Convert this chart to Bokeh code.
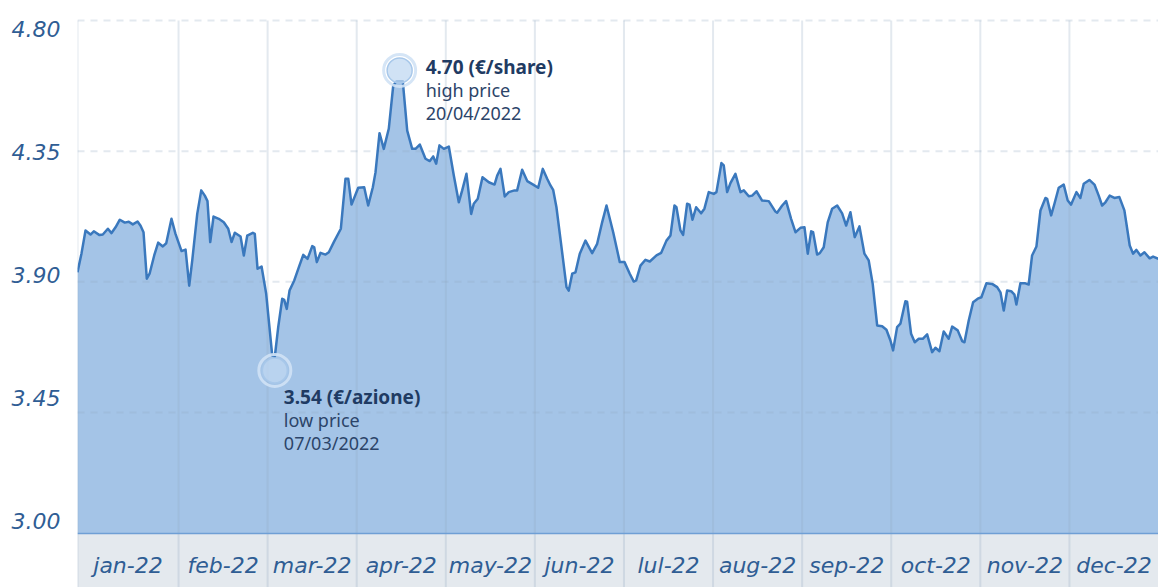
import numpy as np
from bokeh.plotting import figure
from bokeh.models import Range1d, LinearAxis, FixedTicker, NumeralTickFormatter, BoxAnnotation, Span
from bokeh.core.properties import value
from bokeh.embed import file_html
from bokeh.resources import INLINE

# ---------------- data ----------------
months = ["jan-22", "feb-22", "mar-22", "apr-22", "may-22", "jun-22",
          "lul-22", "aug-22", "sep-22", "oct-22", "nov-22", "dec-22"]
y_ticks = [3.00, 3.45, 3.90, 4.35, 4.80]

# position in months (0 = start of jan, 12 = end of dec)
month_pos = [-0.134, -0.089, -0.044, 0.012, 0.049, 0.113, 0.150, 0.207, 0.248, 0.293, 0.341, 0.397, 0.442, 0.487,
             0.540, 0.574, 0.607, 0.644, 0.675, 0.727, 0.772, 0.824, 0.862, 0.921, 0.966, 1.034, 1.079, 1.120,
             1.154, 1.210, 1.255, 1.295, 1.325, 1.356, 1.393, 1.452, 1.508, 1.558, 1.595, 1.632, 1.696, 1.733,
             1.771, 1.834, 1.856, 1.887, 1.932, 1.984, 2.052, 2.081, 2.119, 2.164, 2.186, 2.215, 2.246, 2.299,
             2.350, 2.400, 2.448, 2.501, 2.523, 2.552, 2.594, 2.650, 2.687, 2.743, 2.822, 2.874, 2.905, 2.942,
             3.017, 3.084, 3.129, 3.181, 3.211, 3.256, 3.304, 3.360, 3.410, 3.447, 3.517, 3.567, 3.623, 3.660,
             3.708, 3.772, 3.820, 3.859, 3.892, 3.929, 3.978, 4.034, 4.090, 4.146, 4.184, 4.232, 4.285, 4.314,
             4.359, 4.412, 4.483, 4.547, 4.577, 4.614, 4.662, 4.707, 4.771, 4.801, 4.857, 4.914, 4.981, 5.037,
             5.089, 5.138, 5.175, 5.205, 5.242, 5.299, 5.355, 5.380, 5.419, 5.456, 5.504, 5.568, 5.643, 5.699,
             5.755, 5.804, 5.879, 5.953, 6.006, 6.065, 6.110, 6.137, 6.185, 6.241, 6.290, 6.365, 6.418, 6.477,
             6.522, 6.567, 6.589, 6.634, 6.664, 6.709, 6.735, 6.769, 6.810, 6.866, 6.903, 6.952, 7.008, 7.038,
             7.094, 7.120, 7.158, 7.195, 7.251, 7.308, 7.345, 7.401, 7.439, 7.487, 7.551, 7.625, 7.700, 7.719,
             7.776, 7.820, 7.876, 7.925, 7.981, 8.026, 8.063, 8.101, 8.123, 8.168, 8.198, 8.242, 8.287, 8.337,
             8.393, 8.449, 8.494, 8.542, 8.590, 8.643, 8.699, 8.747, 8.792, 8.842, 8.898, 8.946, 8.991, 9.021,
             9.066, 9.103, 9.159, 9.178, 9.223, 9.264, 9.309, 9.354, 9.403, 9.459, 9.496, 9.541, 9.589, 9.645,
             9.684, 9.746, 9.796, 9.822, 9.870, 9.919, 9.971, 10.012, 10.068, 10.132, 10.189, 10.226, 10.263,
             10.301, 10.346, 10.383, 10.405, 10.450, 10.506, 10.543, 10.581, 10.630, 10.675, 10.731, 10.750,
             10.795, 10.832, 10.880, 10.936, 10.981, 11.019, 11.079, 11.123, 11.161, 11.224, 11.281, 11.329,
             11.367, 11.404, 11.452, 11.505, 11.561, 11.617, 11.640, 11.677, 11.715, 11.752, 11.797, 11.842,
             11.901, 11.939, 12.0]

price = [3.933, 3.998, 4.077, 4.063, 4.074, 4.061, 4.063, 4.083, 4.068, 4.088, 4.114, 4.104, 4.107, 4.098,
         4.108, 4.093, 4.071, 3.911, 3.928, 3.991, 4.035, 4.022, 4.033, 4.117, 4.065, 4.006, 4.011, 3.887,
         3.974, 4.134, 4.215, 4.197, 4.178, 4.037, 4.125, 4.117, 4.105, 4.083, 4.037, 4.069, 4.056, 3.991,
         4.059, 4.069, 4.065, 3.945, 3.953, 3.859, 3.646, 3.643, 3.744, 3.842, 3.838, 3.807, 3.870, 3.905,
         3.950, 3.993, 3.979, 4.023, 4.019, 3.968, 4.000, 3.994, 4.002, 4.037, 4.083, 4.255, 4.255, 4.166,
         4.224, 4.226, 4.163, 4.226, 4.277, 4.412, 4.358, 4.427, 4.576, 4.591, 4.591, 4.421, 4.358, 4.358,
         4.373, 4.324, 4.316, 4.332, 4.307, 4.370, 4.358, 4.366, 4.266, 4.174, 4.215, 4.272, 4.134, 4.169,
         4.186, 4.260, 4.243, 4.235, 4.266, 4.289, 4.194, 4.209, 4.215, 4.215, 4.286, 4.247, 4.235, 4.224,
         4.289, 4.255, 4.232, 4.217, 4.157, 4.019, 3.882, 3.870, 3.928, 3.933, 3.997, 4.042, 3.999, 4.031,
         4.105, 4.163, 4.071, 3.968, 3.968, 3.928, 3.901, 3.905, 3.956, 3.976, 3.970, 3.991, 4.000, 4.042,
         4.060, 4.163, 4.157, 4.077, 4.062, 4.169, 4.166, 4.114, 4.157, 4.136, 4.152, 4.209, 4.203, 4.209,
         4.309, 4.301, 4.209, 4.240, 4.272, 4.209, 4.215, 4.195, 4.197, 4.212, 4.180, 4.178, 4.142, 4.138,
         4.163, 4.178, 4.117, 4.071, 4.086, 4.088, 3.997, 4.074, 4.071, 3.994, 3.999, 4.019, 4.105, 4.152,
         4.163, 4.136, 4.094, 4.140, 4.054, 4.091, 3.997, 3.974, 3.893, 3.750, 3.747, 3.735, 3.698, 3.664,
         3.744, 3.756, 3.833, 3.832, 3.721, 3.692, 3.704, 3.704, 3.719, 3.658, 3.673, 3.661, 3.729, 3.704,
         3.746, 3.733, 3.696, 3.692, 3.767, 3.830, 3.842, 3.847, 3.895, 3.893, 3.882, 3.864, 3.801,
         3.870, 3.868, 3.856, 3.822, 3.895, 3.895, 3.891, 3.991, 4.022, 4.146, 4.189, 4.186,
         4.129, 4.169, 4.224, 4.235, 4.180, 4.166, 4.209, 4.189, 4.238, 4.251, 4.235, 4.197,
         4.163, 4.174, 4.197, 4.189, 4.192, 4.146, 4.100, 4.025, 3.997, 4.010, 3.991, 4.002,
         3.981, 3.987, 3.979]

ann_value = [4.70, 3.54]
ann_unit = ["(€/share)", "(€/azione)"]
ann_kind = ["high price", "low price"]
ann_date = ["20/04/2022", "07/03/2022"]

assert len(month_pos) == len(price), (len(month_pos), len(price))

# ---------------- layout ----------------
W, H = 1158, 587
LEFT = 77
PX = 290.4                     # pixels per price unit (plot scale)
Y_TOP = max(y_ticks) + 20 / PX
Y_BOTTOM = Y_TOP - H / PX
FLOOR = max(y_ticks) - 513 / PX          # bottom of the plot area (top of the month band)
LPX = 273.06                   # label scale
LAB_TOP = max(y_ticks) + 28.5 / LPX
LAB_BOTTOM = LAB_TOP - H / LPX
X_START, X_END = month_pos[0], float(len(months))

BLUE_LINE = "#3a78bd"
BLUE_FILL = "#a4c4e7"
AXIS_TXT = "#2f5d94"
NAVY = "#1f3b63"
GRID = "#8fa6bf"

p = figure(width=W, height=H, x_range=Range1d(X_START, X_END), y_range=Range1d(Y_BOTTOM, Y_TOP),
           output_backend="svg", toolbar_location=None, x_axis_location=None, y_axis_location=None,
           min_border_left=LEFT, min_border_right=0, min_border_top=0, min_border_bottom=0)
p.grid.visible = False
p.outline_line_color = None
p.background_fill_color = "white"
p.border_fill_color = "white"

p.extra_y_ranges = {"lab": Range1d(LAB_BOTTOM, LAB_TOP)}
ax = LinearAxis(y_range_name="lab", ticker=FixedTicker(ticks=y_ticks),
                formatter=NumeralTickFormatter(format="0.00"))
ax.axis_line_color = None
ax.major_tick_line_color = None
ax.minor_tick_line_color = None
ax.major_tick_out = 0
ax.major_tick_in = 0
ax.major_label_standoff = 17
ax.major_label_text_font = "DejaVu Sans"
ax.major_label_text_font_style = "italic"
ax.major_label_text_font_size = "22px"
ax.major_label_text_color = AXIS_TXT
p.add_layout(ax, "left")

# month band
p.add_layout(BoxAnnotation(top=FLOOR, fill_color="#e4e9ee", fill_alpha=1.0, line_color=None, level="underlay"))

# area
p.varea(x=month_pos, y1=FLOOR, y2=price, fill_color=BLUE_FILL, fill_alpha=1.0)

# grid lines
vlines = [X_START] + list(range(1, len(months)))
p.segment(x0=vlines, y0=Y_BOTTOM, x1=vlines, y1=max(y_ticks), line_color=GRID, line_alpha=0.25, line_width=2)
hticks = [v for v in y_ticks if v > FLOOR]
p.segment(x0=X_START, y0=hticks, x1=X_END, y1=hticks, line_color=GRID, line_alpha=0.25,
          line_width=2, line_dash="7 6")
p.add_layout(Span(location=FLOOR, dimension="width", line_color="#6f9fd5", line_width=1.5))

# line
p.line(month_pos, price, line_color=BLUE_LINE, line_width=2.5, line_join="round")

# month labels
starts = [X_START] + list(range(1, len(months)))
centers = [(s + i + 1) / 2 for i, s in enumerate(starts)]
p.text(x=centers, y=(FLOOR + Y_BOTTOM) / 2, text=months, text_align="center", text_baseline="middle",
       y_offset=5, text_font=value("DejaVu Sans"), text_font_style="italic", text_font_size="22px",
       text_color=AXIS_TXT)

# high / low markers
pr = np.array(price)
mp = np.array(month_pos)
hi_x = float(mp[pr == pr.max()].mean())
lo_x = float(mp[pr.argmin()])
mk_x = [hi_x, lo_x]
mk_y = [float(pr.max()) + 10.7 / PX, float(pr.min()) - 14 / PX]
p.scatter(mk_x, mk_y, size=32, fill_color=None, line_color="#d0e2f5", line_width=3, line_alpha=0.9)
p.scatter(mk_x, mk_y, size=25, fill_color="#c0d8f1", fill_alpha=0.75, line_color="#a8c8ea", line_width=1.5)

head = [f"{v:.2f} {u}" for v, u in zip(ann_value, ann_unit)]
xo = [26, 9]
p.text(x=mk_x, y=mk_y, text=head, x_offset=xo, y_offset=[-3, 27], text_baseline="middle",
       text_font=value("Noto Sans"), text_font_style="bold", text_font_size="19px", text_color=NAVY)
p.text(x=mk_x, y=mk_y, text=ann_kind, x_offset=xo, y_offset=[20, 50], text_baseline="middle",
       text_font=value("Noto Sans"), text_font_size="18px", text_color="#2c4469")
p.text(x=mk_x, y=mk_y, text=ann_date, x_offset=xo, y_offset=[43, 73], text_baseline="middle",
       text_font=value("Noto Sans"), text_font_size="18px", text_color="#2c4469")

open("out.html", "w").write(file_html(p, INLINE))
